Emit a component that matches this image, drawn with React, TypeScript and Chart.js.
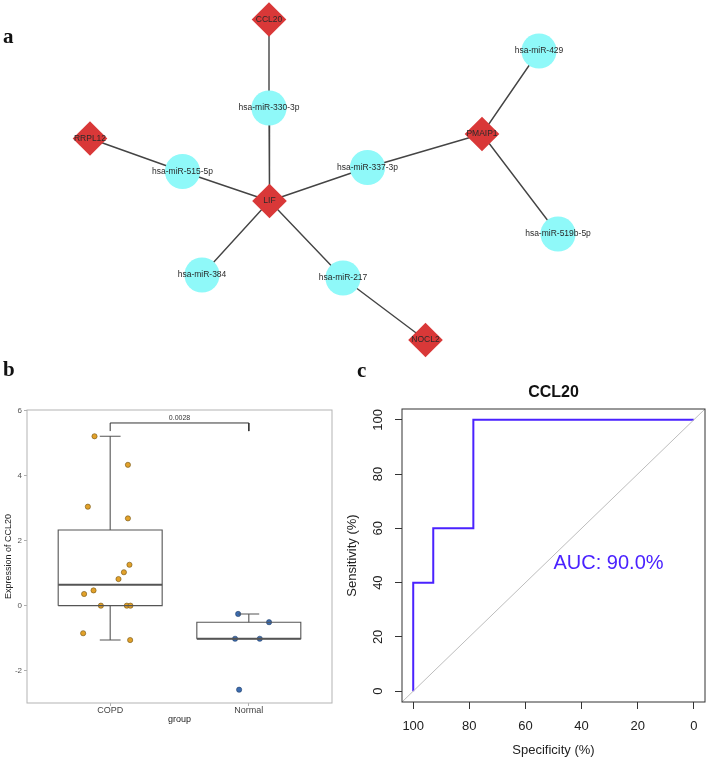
import React, { useEffect, useRef } from 'react';
import { Chart, registerables } from 'chart.js';

Chart.register(...registerables);

const SANS = '"Liberation Sans", Arial, Helvetica, sans-serif';
const SERIF = '"Liberation Serif", "Times New Roman", serif';

// ---------- a: miRNA–gene interaction network ----------
const nodeNames = [
  'CCL20', 'hsa-miR-330-3p', 'RRPL12', 'hsa-miR-515-5p', 'LIF', 'hsa-miR-337-3p',
  'PMAIP1', 'hsa-miR-429', 'hsa-miR-519b-5p', 'hsa-miR-384', 'hsa-miR-217', 'NOCL2',
];
const nodeTypes = [
  'gene', 'mirna', 'gene', 'mirna', 'gene', 'mirna',
  'gene', 'mirna', 'mirna', 'mirna', 'mirna', 'gene',
];
// network layout coordinates
const nodeLayoutX = [269, 269, 90, 182.5, 269.5, 367.5, 482, 539, 558, 202, 343, 425.5];
const nodeLayoutY = [19.5, 108, 138.5, 171.5, 201, 167.5, 134, 51, 234, 275, 278, 340];
const edgeFrom = [
  'CCL20', 'hsa-miR-330-3p', 'RRPL12', 'hsa-miR-515-5p', 'LIF', 'hsa-miR-337-3p',
  'PMAIP1', 'PMAIP1', 'LIF', 'LIF', 'hsa-miR-217',
];
const edgeTo = [
  'hsa-miR-330-3p', 'LIF', 'hsa-miR-515-5p', 'LIF', 'hsa-miR-337-3p', 'PMAIP1',
  'hsa-miR-429', 'hsa-miR-519b-5p', 'hsa-miR-384', 'hsa-miR-217', 'NOCL2',
];

// ---------- b: CCL20 expression by group ----------
const groupNames = ['COPD', 'Normal'];
const copdValues = [5.22, 4.34, 3.05, 2.69, 1.26, 1.03, 0.82, 0.47, 0.36, 0, 0, 0, -0.85, -1.06];
const copdJitter = [-0.113, 0.128, -0.161, 0.128, 0.139, 0.099, 0.06, -0.12, -0.188, -0.067, 0.12, 0.146, -0.195, 0.144];
const normalValues = [-0.255, -0.51, -1.02, -1.02, -2.59];
const normalJitter = [-0.077, 0.146, -0.099, 0.079, -0.07];
const expressionTicks = [-2, 0, 2, 4, 6];
const pValueText = '0.0028';
const bracketY = 5.63;
const bracketTip = 0.25;

// ---------- c: ROC curve for CCL20 ----------
const rocSpecificity = [100, 100, 92.86, 92.86, 78.57, 78.57, 0];
const rocSensitivity = [0, 40, 40, 60, 60, 100, 100];
const rocTicks = [0, 20, 40, 60, 80, 100];

type Pt = { x: number; y: number | null };

const panelLetter = (letter: string, x: number, y: number) => ({
  id: 'panelLetter',
  afterDraw(chart: any) {
    const ctx = chart.ctx;
    ctx.save();
    ctx.font = `bold 21px ${SERIF}`;
    ctx.fillStyle = '#111';
    ctx.textAlign = 'left';
    ctx.textBaseline = 'alphabetic';
    ctx.fillText(letter, x, y);
    ctx.restore();
  },
});

function quantile7(sorted: number[], p: number) {
  const h = (sorted.length - 1) * p;
  const lo = Math.floor(h);
  const hi = Math.ceil(h);
  return sorted[lo] + (h - lo) * (sorted[hi] - sorted[lo]);
}

function boxStats(values: number[]) {
  const s = [...values].sort((a, b) => a - b);
  const q1 = quantile7(s, 0.25);
  const med = quantile7(s, 0.5);
  const q3 = quantile7(s, 0.75);
  const iqr = q3 - q1;
  const inside = s.filter((v) => v >= q1 - 1.5 * iqr && v <= q3 + 1.5 * iqr);
  return { q1, med, q3, lo: inside[0], hi: inside[inside.length - 1] };
}

function networkConfig(): any {
  const idx = (name: string) => nodeNames.indexOf(name);
  const edgePoints: Pt[] = [];
  edgeFrom.forEach((from, i) => {
    const a = idx(from);
    const b = idx(edgeTo[i]);
    edgePoints.push(
      { x: nodeLayoutX[a], y: nodeLayoutY[a] },
      { x: nodeLayoutX[b], y: nodeLayoutY[b] },
      { x: nodeLayoutX[b], y: null },
    );
  });
  const nodesOf = (kind: string) =>
    nodeNames
      .map((_, i) => ({ x: nodeLayoutX[i], y: nodeLayoutY[i], kind: nodeTypes[i] }))
      .filter((p) => p.kind === kind)
      .map(({ x, y }) => ({ x, y }));

  const nodeLabels = {
    id: 'nodeLabels',
    afterDatasetsDraw(chart: any) {
      const { ctx, scales } = chart;
      ctx.save();
      ctx.font = `8.5px ${SANS}`;
      ctx.fillStyle = '#2a2a2a';
      ctx.textAlign = 'center';
      ctx.textBaseline = 'middle';
      nodeNames.forEach((n, i) => {
        ctx.fillText(n, scales.x.getPixelForValue(nodeLayoutX[i]), scales.y.getPixelForValue(nodeLayoutY[i]));
      });
      ctx.restore();
    },
  };

  return {
    type: 'scatter',
    data: {
      datasets: [
        {
          type: 'line',
          data: edgePoints,
          borderColor: '#444444',
          borderWidth: 1.4,
          pointRadius: 0,
          spanGaps: false,
          fill: false,
          order: 3,
        },
        {
          data: nodesOf('mirna'),
          pointStyle: 'circle',
          pointRadius: 17.6,
          backgroundColor: '#8ff9f9',
          borderWidth: 0,
          order: 2,
        },
        {
          data: nodesOf('gene'),
          pointStyle: 'rectRot',
          pointRadius: 17.3,
          backgroundColor: '#d93838',
          borderWidth: 0,
          order: 1,
        },
      ],
    },
    options: {
      responsive: false,
      animation: false,
      devicePixelRatio: 1,
      events: [],
      layout: { padding: 0, autoPadding: false },
      plugins: { legend: { display: false }, tooltip: { enabled: false } },
      scales: {
        x: { type: 'linear', display: false, min: 0, max: 708 },
        y: { type: 'linear', display: false, min: 0, max: 360, reverse: true },
      },
    },
    plugins: [nodeLabels, panelLetter('a', 3, 42.5)],
  };
}

function boxplotConfig(): any {
  const groupValues = [copdValues, normalValues];
  const groupJitter = [copdJitter, normalJitter];
  const stats = groupValues.map(boxStats);
  const half = 0.375;
  const cap = 0.075;
  const boxes: Pt[] = [];
  const medians: Pt[] = [];
  const whiskers: Pt[] = [];
  stats.forEach((s, i) => {
    const cx = i + 1;
    boxes.push(
      { x: cx - half, y: s.q1 }, { x: cx + half, y: s.q1 }, { x: cx + half, y: s.q3 },
      { x: cx - half, y: s.q3 }, { x: cx - half, y: s.q1 }, { x: cx, y: null },
    );
    medians.push({ x: cx - half, y: s.med }, { x: cx + half, y: s.med }, { x: cx, y: null });
    whiskers.push(
      { x: cx, y: s.q3 }, { x: cx, y: s.hi }, { x: cx, y: null },
      { x: cx - cap, y: s.hi }, { x: cx + cap, y: s.hi }, { x: cx, y: null },
    );
    if (s.lo < s.q1) {
      whiskers.push(
        { x: cx, y: s.q1 }, { x: cx, y: s.lo }, { x: cx, y: null },
        { x: cx - cap, y: s.lo }, { x: cx + cap, y: s.lo }, { x: cx, y: null },
      );
    }
  });
  const points = (g: number) =>
    groupValues[g].map((v, k) => ({ x: g + 1 + groupJitter[g][k], y: v }));
  const bracket: Pt[] = [
    { x: 1, y: bracketY - bracketTip }, { x: 1, y: bracketY },
    { x: 2, y: bracketY }, { x: 2, y: bracketY - bracketTip },
  ];

  const lineSet = (data: Pt[], color: string, width: number) => ({
    type: 'line', data, borderColor: color, borderWidth: width, pointRadius: 0, spanGaps: false, fill: false,
  });

  const panelDecor = {
    id: 'panelDecor',
    afterDraw(chart: any) {
      const { ctx, chartArea, scales } = chart;
      ctx.save();
      ctx.strokeStyle = '#b3b3b3';
      ctx.lineWidth = 1;
      ctx.strokeRect(chartArea.left, chartArea.top, chartArea.right - chartArea.left, chartArea.bottom - chartArea.top);
      ctx.font = `7px ${SANS}`;
      ctx.fillStyle = '#333';
      ctx.textAlign = 'center';
      ctx.textBaseline = 'middle';
      ctx.fillText(pValueText, scales.x.getPixelForValue(1.5), scales.y.getPixelForValue(bracketY + 0.15));
      ctx.restore();
    },
  };

  return {
    type: 'scatter',
    data: {
      datasets: [
        lineSet(whiskers, '#555555', 1.1),
        lineSet(boxes, '#555555', 1.1),
        lineSet(medians, '#555555', 1.8),
        lineSet(bracket, '#333333', 1),
        {
          data: points(0), pointRadius: 2.6, backgroundColor: '#e2a12a', borderColor: '#6e5214', borderWidth: 0.6,
        },
        {
          data: points(1), pointRadius: 2.6, backgroundColor: '#3c6cb0', borderColor: '#243f68', borderWidth: 0.6,
        },
      ],
    },
    options: {
      responsive: false,
      animation: false,
      devicePixelRatio: 1,
      events: [],
      layout: { padding: { left: 0, right: 13, top: 50, bottom: 0 }, autoPadding: false },
      plugins: { legend: { display: false }, tooltip: { enabled: false } },
      scales: {
        x: {
          type: 'linear', min: 0.4, max: 2.6,
          afterBuildTicks: (s: any) => { s.ticks = groupNames.map((_, i) => ({ value: i + 1 })); },
          afterFit: (s: any) => { s.height = 56; },
          border: { display: false },
          grid: { drawOnChartArea: false, color: '#999', tickLength: 3, lineWidth: 0.8 },
          ticks: {
            callback: (v: number) => groupNames[Math.round(v) - 1],
            font: { family: SANS, size: 9 }, color: '#444', padding: -1, maxRotation: 0, autoSkip: false,
          },
          title: { display: true, text: 'group', font: { family: SANS, size: 9 }, color: '#222', padding: { top: 0, bottom: 33.6 } },
        },
        y: {
          type: 'linear', min: -3.0, max: 6.03,
          afterBuildTicks: (s: any) => { s.ticks = expressionTicks.map((v) => ({ value: v })); },
          afterFit: (s: any) => { s.width = 27; },
          border: { display: false },
          grid: { drawOnChartArea: false, color: '#999', tickLength: 3, lineWidth: 0.8 },
          ticks: { font: { family: SANS, size: 8 }, color: '#555', padding: 2 },
          title: { display: true, text: 'Expression of CCL20', font: { family: SANS, size: 9 }, color: '#222', padding: { top: 3.6, bottom: 0 } },
        },
      },
    },
    plugins: [panelDecor, panelLetter('b', 3, 16)],
  };
}

function rocConfig(): any {
  const rocColor = '#4a22ff';
  const curve = rocSpecificity.map((sp, i) => ({ x: sp, y: rocSensitivity[i] }));
  let area = 0;
  for (let i = 0; i < curve.length - 1; i++) {
    area += (curve[i].x - curve[i + 1].x) * (curve[i].y + curve[i + 1].y) / 2;
  }
  const aucText = `AUC: ${(area / 100).toFixed(1)}%`;

  const rocDecor = {
    id: 'rocDecor',
    afterDraw(chart: any) {
      const { ctx, chartArea, scales } = chart;
      ctx.save();
      ctx.strokeStyle = '#333';
      ctx.lineWidth = 1;
      ctx.strokeRect(chartArea.left, chartArea.top, chartArea.right - chartArea.left, chartArea.bottom - chartArea.top);
      // y tick labels, rotated parallel to the axis
      ctx.font = `13px ${SANS}`;
      ctx.fillStyle = '#222';
      ctx.textAlign = 'center';
      ctx.textBaseline = 'middle';
      rocTicks.forEach((v) => {
        ctx.save();
        ctx.translate(33, scales.y.getPixelForValue(v));
        ctx.rotate(-Math.PI / 2);
        ctx.fillText(String(v), 0, 0);
        ctx.restore();
      });
      ctx.font = `20px ${SANS}`;
      ctx.fillStyle = rocColor;
      ctx.textAlign = 'left';
      ctx.textBaseline = 'top';
      ctx.fillText(aucText, scales.x.getPixelForValue(50), scales.y.getPixelForValue(50) - 2);
      ctx.restore();
    },
  };

  return {
    type: 'scatter',
    data: {
      datasets: [
        {
          type: 'line', data: [{ x: 104, y: -4 }, { x: -4, y: 104 }],
          borderColor: '#bdbdbd', borderWidth: 1, pointRadius: 0, fill: false,
        },
        {
          type: 'line', data: curve, borderColor: rocColor, borderWidth: 2, pointRadius: 0, fill: false,
        },
      ],
    },
    options: {
      responsive: false,
      animation: false,
      devicePixelRatio: 1,
      events: [],
      layout: { padding: { left: 0, right: 3, top: 0, bottom: 0 }, autoPadding: false },
      plugins: {
        legend: { display: false },
        tooltip: { enabled: false },
        title: {
          display: true, text: 'CCL20', fullSize: false,
          font: { family: SANS, size: 16, weight: 'bold' }, color: '#111',
          padding: { top: 23.4, bottom: 6.4 },
        },
      },
      scales: {
        x: {
          type: 'linear', min: -4, max: 104, reverse: true,
          afterBuildTicks: (s: any) => { s.ticks = rocTicks.map((v) => ({ value: v })); },
          afterFit: (s: any) => { s.height = 57; },
          border: { display: false },
          grid: { drawOnChartArea: false, color: '#333', tickLength: 7, lineWidth: 1 },
          ticks: { font: { family: SANS, size: 13 }, color: '#222', padding: 10, maxRotation: 0, autoSkip: false },
          title: { display: true, text: 'Specificity (%)', font: { family: SANS, size: 13 }, color: '#222', padding: { top: 0, bottom: 0.5 } },
        },
        y: {
          type: 'linear', min: -4, max: 104,
          afterBuildTicks: (s: any) => { s.ticks = rocTicks.map((v) => ({ value: v })); },
          afterFit: (s: any) => { s.width = 57; },
          border: { display: false },
          grid: { drawOnChartArea: false, color: '#333', tickLength: 7, lineWidth: 1 },
          ticks: { display: false },
          title: { display: true, text: 'Sensitivity (%)', font: { family: SANS, size: 13 }, color: '#222', padding: { top: 0, bottom: 0 } },
        },
      },
    },
    plugins: [rocDecor, panelLetter('c', 12, 17)],
  };
}

function ChartCanvas(props: { left: number; top: number; width: number; height: number; build: () => any }) {
  const ref = useRef<HTMLCanvasElement | null>(null);
  useEffect(() => {
    if (!ref.current) return;
    const chart = new Chart(ref.current, props.build());
    return () => chart.destroy();
  }, []);
  return (
    <canvas
      ref={ref}
      width={props.width}
      height={props.height}
      style={{ position: 'absolute', left: props.left, top: props.top, width: props.width, height: props.height }}
    />
  );
}

export default function App() {
  return (
    <div style={{ position: 'absolute', left: 0, top: 0, width: 708, height: 759, background: '#ffffff', overflow: 'hidden' }}>
      <ChartCanvas left={0} top={0} width={708} height={360} build={networkConfig} />
      <ChartCanvas left={0} top={360} width={345} height={399} build={boxplotConfig} />
      <ChartCanvas left={345} top={360} width={363} height={399} build={rocConfig} />
    </div>
  );
}
